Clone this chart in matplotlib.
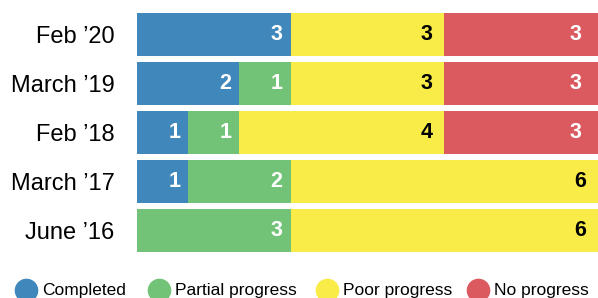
import matplotlib as mpl
mpl.use('Agg')
import matplotlib.pyplot as plt

categories = ["Feb \u201920", "March \u201919", "Feb \u201918", "March \u201917", "June \u201916"]
series = ["Completed", "Partial progress", "Poor progress", "No progress"]
completed = [3, 2, 1, 1, 0]
partial = [0, 1, 1, 2, 3]
poor = [3, 3, 4, 6, 6]
none_ = [3, 3, 3, 0, 0]

colors = ["#4087bc", "#72c377", "#faec48", "#db5a60"]
text_colors = ["white", "white", "black", "white"]
pads = [-8, -8, -12, -17]

plt.rcParams['font.family'] = ['Liberation Sans', 'DejaVu Sans']

fig = plt.figure(figsize=(5.98, 2.98), dpi=100)
ax = fig.add_axes([0.229, 0.143, 0.771, 0.822])

ypos = list(range(len(categories)))
left = [0] * len(categories)
for vals, col, tcol, pad in zip([completed, partial, poor, none_], colors, text_colors, pads):
    ax.barh(ypos, vals, left=left, height=0.88, color=col)
    for y, v, l in zip(ypos, vals, left):
        if v > 0:
            ax.annotate(str(v), (l + v, y), xytext=(pad, 0), textcoords='offset pixels',
                        ha='right', va='center', fontsize=15.5, fontweight='bold', color=tcol)
    left = [l + v for l, v in zip(left, vals)]

ax.set_xlim(0, 9)
ax.set_ylim(len(categories) - 0.5, -0.5)
ax.set_yticks(ypos)
ax.set_yticklabels(categories, fontsize=17)
ax.tick_params(axis='y', length=0, pad=16)
ax.set_xticks([])
for s in ax.spines.values():
    s.set_visible(False)

# legend along the bottom
leg_x = [26, 159, 327, 478]
for x, col, name in zip(leg_x, colors, series):
    fig.add_artist(mpl.lines.Line2D([x / 598], [8 / 298], marker='o', markersize=16,
                                    color=col, transform=fig.transFigure))
    fig.text((x + 16) / 598, 7 / 298, name, fontsize=12.5, va='center', ha='left')

plt.savefig("out.png")
